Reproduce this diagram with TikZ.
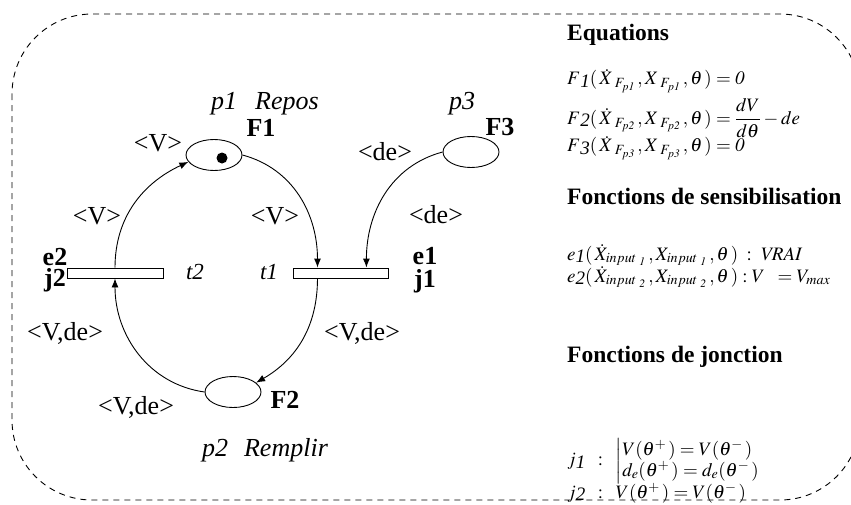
\documentclass[tikz,border=0pt]{standalone}
\usepackage{mathptmx}
\usepackage{fontspec}
\setmainfont{Liberation Serif}
\usetikzlibrary{arrows.meta,shapes.geometric,calc}
\newcommand{\lsub}[1]{\lower2.5pt\hbox{\itshape #1}}
\tikzset{
  place/.style={draw,ellipse,line width=0.9pt,minimum width=56pt,minimum height=31pt,inner sep=0pt},
  token/.style={circle,fill,minimum size=11pt,inner sep=0pt},
  trans/.style={draw,rectangle,line width=0.9pt,minimum height=10pt,inner sep=0pt},
  arc/.style={line width=0.9pt,-{Latex[length=9pt,width=7pt]}},
  lab/.style={font=\fontsize{26}{30}\selectfont,inner sep=0pt},
  bl/.style={font=\fontsize{26}{30}\selectfont\bfseries,inner sep=0pt},
  il/.style={font=\fontsize{26}{30}\selectfont\itshape,inner sep=0pt},
  head/.style={font=\fontsize{23.5}{26}\selectfont\bfseries,inner sep=0pt,anchor=west},
  eq/.style={font=\fontsize{19}{22}\selectfont,inner sep=0pt,anchor=west},
  border/.style={line width=0.9pt,dash pattern=on 6pt off 5pt,rounded corners=80pt}
}
\begin{document}
\begin{tikzpicture}[x=1pt,y=-1pt]
\useasboundingbox (0,0) rectangle (851,504);
\clip (0,0) rectangle (851,504);
\draw[border] (12,14) rectangle (860,500);

% places and transitions
\node[place] (p1) at (214,155) {};
\node[token] (tok) at (222,158) {};
\node[place] (p3) at (471,152) {};
\node[place] (p2) at (233,392) {};
\node[trans,minimum width=96pt] (t2) at (115,273) {};
\node[trans,minimum width=95pt] (t1) at (340.5,273) {};
\coordinate (t1a) at ($(t1.north west)!0.26!(t1.north east)$);
\coordinate (t1b) at ($(t1.north west)!0.77!(t1.north east)$);
\coordinate (t1c) at ($(t1.south west)!0.26!(t1.south east)$);

% arcs
\draw[arc] (t2.north) to[out=90,in=205] (p1.195);
\draw[arc] (p1.east) to[out=-15,in=90] (t1a);
\draw[arc] (p3.west) to[out=195,in=90] (t1b);
\draw[arc] (t1c) to[out=-90,in=30] (p2.22);
\draw[arc] (p2.west) to[out=172,in=-90] (t2.south);

% labels
\node[il] (lp1) at (265,104) {p1\hspace{18pt}Repos};
\node[bl] (lF1) at (261,128) {F1};
\node[lab] (lv1) at (158,143) {<V>};
\node[lab] (lv2) at (97,216) {<V>};
\node[lab] (lv3) at (275,216) {<V>};
\node[lab] (ld1) at (385,152) {<de>};
\node[lab] (ld2) at (436,215) {<de>};
\node[il] (lp3) at (462,104) {p3};
\node[bl] (lF3) at (500,127) {F3};
\node[bl] (le1) at (425,256) {e1};
\node[bl] (lj1) at (425,281) {j1};
\node[bl] (le2) at (55,257) {e2};
\node[bl] (lj2) at (55,280) {j2};
\node[il,font=\fontsize{23}{26}\selectfont\itshape] (lt2) at (195,272) {t2};
\node[il,font=\fontsize{23}{26}\selectfont\itshape] (lt1) at (269,272) {t1};
\node[lab] (lvd1) at (65,333) {<V,de>};
\node[lab] (lvd2) at (362,333) {<V,de>};
\node[lab] (lvd3) at (136,407) {<V,de>};
\node[bl] (lF2) at (285,400) {F2};
\node[il] (lp2) at (265,450) {p2\hspace{16pt}Remplir};

% right panel
\node[head] (h1) at (567,35) {Equations};
\node[eq] (ef1) at (567,81) {$F\lsub{1}(\,\dot X\,_{F_{p\mathit{1}}}\,,X\,_{F_{p\mathit{1}}}\,,\theta\,) = \mathit{0}$};
\node[eq] (ef2) at (567,118) {$F\lsub{2}(\,\dot X\,_{F_{p\mathit{2}}}\,,X\,_{F_{p\mathit{2}}}\,,\theta\,) = {\displaystyle\frac{dV}{d\theta}} - de$};
\node[eq] (ef3) at (567,148) {$F\lsub{3}(\,\dot X\,_{F_{p\mathit{3}}}\,,X\,_{F_{p\mathit{3}}}\,,\theta\,) = \mathit{0}$};
\node[head] (h2) at (567,196) {Fonctions de sensibilisation};
\node[eq] (ee1) at (567,255) {$e\lsub{1}(\,\dot X_{input\;_{\mathit{1}}}\,,X_{input\;_{\mathit{1}}}\,,\theta\,)\;:\;\mathit{VRAI}$};
\node[eq] (ee2) at (567,277) {$e\lsub{2}(\,\dot X_{input\;_{\mathit{2}}}\,,X_{input\;_{\mathit{2}}}\,,\theta\,):V\;\;=V_{max}$};
\node[head] (h3) at (567,357) {Fonctions de jonction};
\node[eq] (ej1) at (567,461) {\renewcommand{\arraystretch}{0.8}$j\lsub{1}\;\;:\;\;\left|\begin{array}{@{}l@{}} V(\theta^+\,) = V(\theta^-\,)\\ d_e(\theta^+\,) = d_e(\theta^-\,)\end{array}\right.$};
\node[eq] (ej2) at (567,493) {$j\lsub{2}\;\;:\;\;V(\theta^+\,) = V(\theta^-\,)$};
\end{tikzpicture}
\end{document}
